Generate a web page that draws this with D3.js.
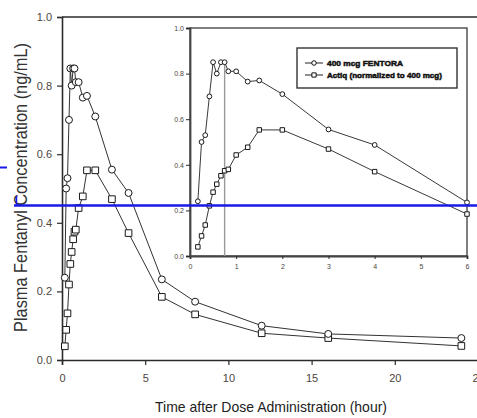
<!DOCTYPE html>
<html>
<head>
<meta charset="utf-8">
<script src="https://cdn.jsdelivr.net/npm/d3@7"></script>
<style>
  html, body { margin: 0; padding: 0; background: #fff; }
  svg { display: block; font-family: "Liberation Sans", Arial, sans-serif; }
</style>
</head>
<body>
<svg id="chart" width="477" height="418"></svg>
<script>
// Sampling times (hours) shared by both formulations
const hours = [0.17, 0.25, 0.33, 0.42, 0.5, 0.58, 0.67, 0.75, 0.83, 1, 1.25, 1.5, 2, 3, 4, 6, 8, 12, 16, 24];
// Mean plasma fentanyl concentration (ng/mL)
const fentora = [0.24, 0.50, 0.53, 0.70, 0.85, 0.80, 0.85, 0.85, 0.81, 0.81, 0.765, 0.77, 0.71, 0.555, 0.487, 0.235, 0.17, 0.10, 0.076, 0.064];
const actiq   = [0.04, 0.088, 0.136, 0.22, 0.28, 0.315, 0.352, 0.374, 0.38, 0.443, 0.477, 0.553, 0.553, 0.469, 0.37, 0.184, 0.133, 0.078, 0.064, 0.041];
const seriesNames = ["400 mcg FENTORA", "Actiq (normalized to 400 mcg)"];
const tmaxHour = 0.75;

const mainXTicks = [0, 5, 10, 15, 20, 25];
const mainYTicks = [0, 0.2, 0.4, 0.6, 0.8, 1.0];
const insetXTicks = [0, 1, 2, 3, 4, 5, 6];
const insetYTicks = [0, 0.2, 0.4, 0.6, 0.8, 1.0];

const xTitle = "Time after Dose Administration (hour)";
const yTitle = "Plasma Fentanyl Concentration (ng/mL)";

const svg = d3.select("#chart");
const ink = "#2b2b2b";
const tickInk = "#4d4640";

const rows = hours.map((t, i) => ({ t, f: fentora[i], a: actiq[i] }));

// ---------- main panel ----------
const x = d3.scaleLinear().domain([0, 25]).range([62, 478]);
const y = d3.scaleLinear().domain([0, 1]).range([360, 17]);

const gx = svg.append("g").attr("transform", "translate(0,360)")
  .call(d3.axisBottom(x).tickValues(mainXTicks).tickFormat(d3.format("d")).tickSize(5).tickPadding(9));
const gy = svg.append("g").attr("transform", "translate(62,0)")
  .call(d3.axisLeft(y).tickValues(mainYTicks).tickFormat(d3.format(".1f")).tickSize(5).tickPadding(5));
[gx, gy].forEach(g => {
  g.select(".domain").attr("stroke", ink).attr("stroke-width", 1.6);
  g.selectAll(".tick line").attr("stroke", ink).attr("stroke-width", 1.2);
  g.selectAll(".tick text").attr("fill", tickInk).attr("font-size", 11)
    .attr("font-family", "'Liberation Sans', Arial, sans-serif");
});
svg.append("line").attr("x1", x(0)).attr("x2", 477).attr("y1", y(1)).attr("y2", y(1))
  .attr("stroke", ink).attr("stroke-width", 1.4);

function drawSeries(g, xs, ys, key, shape, size, data, lineColor) {
  const line = d3.line().x(d => xs(d.t)).y(d => ys(d[key]));
  g.append("path").datum(data).attr("d", line)
    .attr("fill", "none").attr("stroke", lineColor).attr("stroke-width", 1);
  const sym = d3.symbol().type(shape).size(size);
  g.selectAll(null).data(data).enter().append("path")
    .attr("d", sym)
    .attr("transform", d => `translate(${xs(d.t)},${ys(d[key])})`)
    .attr("fill", "#fff").attr("stroke", "#1a1a1a").attr("stroke-width", 1);
}

const mainG = svg.append("g");
drawSeries(mainG, x, y, "a", d3.symbolSquare, 44, rows, "#333");
drawSeries(mainG, x, y, "f", d3.symbolCircle, 38, rows, "#333");

// axis titles
svg.append("text")
  .attr("x", 155).attr("y", 412)
  .attr("textLength", 232).attr("lengthAdjust", "spacingAndGlyphs")
  .attr("font-size", 15).attr("fill", "#222")
  .text(xTitle);
svg.append("text")
  .attr("transform", "translate(27,332) rotate(-90)")
  .attr("x", 0).attr("y", 0)
  .attr("textLength", 289).attr("lengthAdjust", "spacingAndGlyphs")
  .attr("font-size", 18).attr("fill", "#333")
  .text(yTitle);

// ---------- inset panel ----------
const ix = d3.scaleLinear().domain([0, 6]).range([190, 467]);
const iy = d3.scaleLinear().domain([0, 1]).range([256, 28]);
const inset = svg.append("g");
inset.append("rect").attr("x", ix(0)).attr("y", iy(1))
  .attr("width", ix(6) - ix(0)).attr("height", iy(0) - iy(1))
  .attr("fill", "#fff").attr("stroke", ink).attr("stroke-width", 1.2);

const igx = inset.append("g").attr("transform", `translate(0,${iy(0)})`)
  .call(d3.axisBottom(ix).tickValues(insetXTicks).tickFormat(d3.format("d")).tickSize(3).tickPadding(5));
const igy = inset.append("g").attr("transform", `translate(${ix(0)},0)`)
  .call(d3.axisLeft(iy).tickValues(insetYTicks).tickFormat(d3.format(".1f")).tickSize(4).tickPadding(2));
[igx, igy].forEach(g => {
  g.select(".domain").attr("stroke", "#444").attr("stroke-width", 1.8);
  g.selectAll(".tick line").attr("stroke", ink).attr("stroke-width", 1);
  g.selectAll(".tick text").attr("fill", tickInk).attr("font-size", 7)
    .attr("font-family", "'Liberation Sans', Arial, sans-serif");
});

// Tmax reference line
const tmaxRow = rows.find(d => d.t === tmaxHour);
inset.append("line")
  .attr("x1", ix(tmaxHour)).attr("x2", ix(tmaxHour))
  .attr("y1", iy(tmaxRow.f)).attr("y2", iy(0))
  .attr("stroke", "#9a9a9a").attr("stroke-width", 1.4);

const insetRows = rows.filter(d => d.t <= 6);
drawSeries(inset, ix, iy, "a", d3.symbolSquare, 20, insetRows, "#3a3a3a");
drawSeries(inset, ix, iy, "f", d3.symbolCircle, 18, insetRows, "#3a3a3a");

// legend
const lg = inset.append("g");
lg.append("rect").attr("x", 297).attr("y", 48).attr("width", 160).attr("height", 40)
  .attr("fill", "#fff").attr("stroke", "#333").attr("stroke-width", 1.4);
const legendRows = [
  { name: seriesNames[0], shape: d3.symbolCircle, size: 16, yy: 63, len: 76 },
  { name: seriesNames[1], shape: d3.symbolSquare, size: 18, yy: 75, len: 115 }
];
legendRows.forEach(r => {
  lg.append("line").attr("x1", 305).attr("x2", 323).attr("y1", r.yy).attr("y2", r.yy)
    .attr("stroke", "#222").attr("stroke-width", 1);
  lg.append("path").attr("d", d3.symbol().type(r.shape).size(r.size)())
    .attr("transform", `translate(314,${r.yy})`)
    .attr("fill", "#fff").attr("stroke", "#111").attr("stroke-width", 1);
  lg.append("text").attr("x", 327).attr("y", r.yy + 3)
    .attr("textLength", r.len).attr("lengthAdjust", "spacingAndGlyphs")
    .attr("font-size", 8).attr("font-weight", "bold").attr("fill", "#111")
    .attr("stroke", "#111").attr("stroke-width", 0.5)
    .text(r.name);
});

// blue reference marks
const blue = "#1a1ae6";
svg.append("line").attr("x1", 14).attr("x2", 477).attr("y1", 205.5).attr("y2", 205.5)
  .attr("stroke", blue).attr("stroke-width", 2.5);
svg.append("line").attr("x1", 16.5).attr("x2", 16.5).attr("y1", 196).attr("y2", 206)
  .attr("stroke", blue).attr("stroke-width", 1.5);
svg.append("line").attr("x1", 0).attr("x2", 7).attr("y1", 167.5).attr("y2", 167.5)
  .attr("stroke", blue).attr("stroke-width", 2);
</script>
</body>
</html>
